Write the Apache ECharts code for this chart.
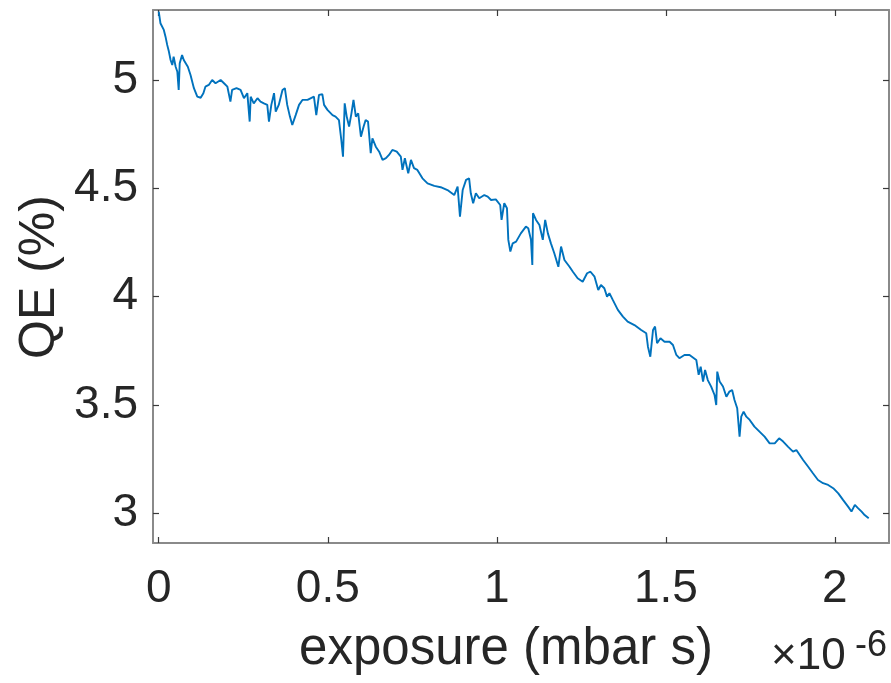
<!DOCTYPE html>
<html>
<head>
<meta charset="utf-8">
<script src="https://cdn.jsdelivr.net/npm/echarts@6/dist/echarts.min.js"></script>
<style>
html,body{margin:0;padding:0;background:#fff;}
#c{width:891px;height:683px;}
</style>
</head>
<body>
<div id="c"></div>
<script>
// exposure (units of 1e-6 mbar s)
const exposure = [
0.000,0.005,0.015,0.020,0.025,0.030,0.035,0.040,0.044,0.050,0.055,0.059,0.062,0.069,0.074,0.079,0.086,0.094,0.104,0.114,
0.124,0.132,0.138,0.148,0.158,0.168,0.183,0.193,0.203,0.212,0.217,0.230,0.242,0.252,0.262,0.269,0.272,0.281,0.292,0.301,
0.311,0.321,0.326,0.333,0.341,0.346,0.355,0.366,0.373,0.380,0.388,0.395,0.405,0.415,0.425,0.440,0.459,0.466,0.474,0.484,
0.489,0.499,0.514,0.523,0.533,0.540,0.545,0.550,0.556,0.563,0.570,0.576,0.583,0.590,0.598,0.606,0.612,0.619,0.627,0.632,
0.642,0.652,0.662,0.672,0.681,0.691,0.704,0.716,0.721,0.728,0.738,0.746,0.755,0.765,0.780,0.795,0.815,0.834,0.854,0.874,
0.884,0.891,0.899,0.909,0.918,0.923,0.930,0.938,0.948,0.963,0.973,0.983,0.997,1.010,1.014,1.022,1.030,1.034,1.040,1.047,
1.057,1.071,1.086,1.093,1.101,1.105,1.107,1.116,1.126,1.136,1.143,1.151,1.160,1.170,1.182,1.190,1.200,1.215,1.225,1.239,
1.254,1.267,1.277,1.289,1.300,1.308,1.318,1.326,1.333,1.343,1.358,1.373,1.387,1.407,1.427,1.442,1.447,1.454,1.462,1.468,
1.474,1.484,1.496,1.511,1.521,1.531,1.540,1.555,1.570,1.575,1.590,1.597,1.603,1.610,1.616,1.624,1.634,1.644,1.649,1.652,
1.659,1.669,1.679,1.688,1.696,1.703,1.711,1.718,1.723,1.730,1.738,1.748,1.762,1.777,1.792,1.807,1.822,1.835,1.847,1.861,
1.876,1.886,1.896,1.906,1.921,1.935,1.950,1.965,1.980,1.995,2.010,2.024,2.039,2.049,2.059,2.069,2.079,2.088,2.100
];
// QE (%)
const qe = [
5.315,5.262,5.231,5.200,5.162,5.131,5.092,5.069,5.108,5.061,5.038,4.954,5.077,5.115,5.092,5.100,5.061,5.023,4.962,4.923,
4.918,4.939,4.969,4.977,5.000,4.985,5.000,4.985,4.969,4.900,4.954,4.962,4.954,4.916,4.939,4.808,4.923,4.892,4.916,4.900,
4.892,4.885,4.808,4.885,4.939,4.854,4.885,4.954,4.962,4.885,4.831,4.792,4.838,4.885,4.908,4.908,4.923,4.838,4.931,4.934,
4.885,4.862,4.838,4.831,4.815,4.723,4.646,4.892,4.831,4.785,4.846,4.908,4.831,4.846,4.738,4.785,4.815,4.808,4.662,4.731,
4.692,4.669,4.631,4.639,4.654,4.677,4.669,4.646,4.585,4.639,4.569,4.631,4.593,4.585,4.546,4.523,4.511,4.505,4.492,4.469,
4.508,4.369,4.492,4.539,4.546,4.477,4.431,4.477,4.454,4.469,4.462,4.446,4.449,4.423,4.354,4.431,4.408,4.262,4.208,4.246,
4.254,4.292,4.323,4.316,4.262,4.146,4.385,4.354,4.331,4.262,4.354,4.292,4.246,4.200,4.138,4.231,4.169,4.138,4.115,4.085,
4.069,4.108,4.115,4.092,4.031,4.054,4.039,4.000,4.016,3.985,3.939,3.908,3.885,3.869,3.846,3.831,3.769,3.723,3.846,3.862,
3.785,3.808,3.792,3.792,3.777,3.731,3.716,3.731,3.731,3.723,3.708,3.639,3.677,3.608,3.662,3.615,3.585,3.546,3.500,3.654,
3.608,3.585,3.538,3.562,3.569,3.523,3.485,3.354,3.446,3.469,3.446,3.431,3.400,3.377,3.354,3.323,3.323,3.346,3.331,3.308,
3.285,3.292,3.269,3.246,3.215,3.185,3.154,3.139,3.131,3.116,3.092,3.062,3.031,3.008,3.039,3.023,3.008,2.992,2.977
];
const xTicks = [0, 0.5, 1, 1.5, 2];
const yTicks = [3, 3.5, 4, 4.5, 5];
const xRange = [-0.017, 2.16];
const yRange = [2.863, 5.323];

const chart = echarts.init(document.getElementById('c'), null, {renderer:'canvas'});
const FONT = 'Liberation Sans, Arial, Helvetica, sans-serif';
const frameLine = {show:true, onZero:false, lineStyle:{color:'#8a8a8a', width:2}};
const tickStyle = {color:'#3a3a3a', width:1.2};

const seriesData = exposure.map((x,i)=>[x, qe[i]]);

chart.setOption({
  animation:false,
  backgroundColor:'#ffffff',
  grid:{left:153, top:10, right:2, bottom:140, containLabel:false, outerBoundsMode:'none'},
  xAxis:[
    {type:'value', min:xRange[0], max:xRange[1], position:'bottom',
     axisLine:frameLine,
     axisTick:{show:true, inside:true, length:6, customValues:xTicks, lineStyle:tickStyle},
     axisLabel:{show:true, customValues:xTicks, fontSize:46, fontFamily:FONT, color:'#262626', margin:23,
       formatter:v=>String(v)},
     splitLine:{show:false}},
    {type:'value', min:xRange[0], max:xRange[1], position:'top',
     axisLine:frameLine,
     axisTick:{show:true, inside:true, length:6, customValues:xTicks, lineStyle:tickStyle},
     axisLabel:{show:false}, splitLine:{show:false}}
  ],
  yAxis:[
    {type:'value', min:yRange[0], max:yRange[1], position:'left',
     axisLine:frameLine,
     axisTick:{show:true, inside:true, length:6, customValues:yTicks, lineStyle:tickStyle},
     axisLabel:{show:true, customValues:yTicks, fontSize:46, fontFamily:FONT, color:'#262626', margin:15,
       formatter:v=>String(v)},
     splitLine:{show:false}},
    {type:'value', min:yRange[0], max:yRange[1], position:'right',
     axisLine:frameLine,
     axisTick:{show:true, inside:true, length:6, customValues:yTicks, lineStyle:tickStyle},
     axisLabel:{show:false}, splitLine:{show:false}}
  ],
  series:[{
    type:'line', xAxisIndex:0, yAxisIndex:0, data:seriesData,
    showSymbol:false, symbol:'none', smooth:false, clip:true,
    lineStyle:{color:'#0072BD', width:1.9}, z:5
  }],
  graphic:[
    {type:'text', x:506, y:650, style:{text:'exposure (mbar s)', font:'51px '+FONT, fill:'#262626', align:'center', verticalAlign:'middle'}},
    {type:'text', x:771, y:679, style:{text:'×10', font:'44px '+FONT, fill:'#262626', align:'left', verticalAlign:'bottom'}},
    {type:'text', x:855, y:664, style:{text:'-6', font:'36px '+FONT, fill:'#262626', align:'left', verticalAlign:'bottom'}},
    {type:'text', x:40, y:277, rotation:Math.PI/2, style:{text:'QE (%)', font:'50px '+FONT, fill:'#262626', align:'center', verticalAlign:'middle'}}
  ]
});
</script>
</body>
</html>
